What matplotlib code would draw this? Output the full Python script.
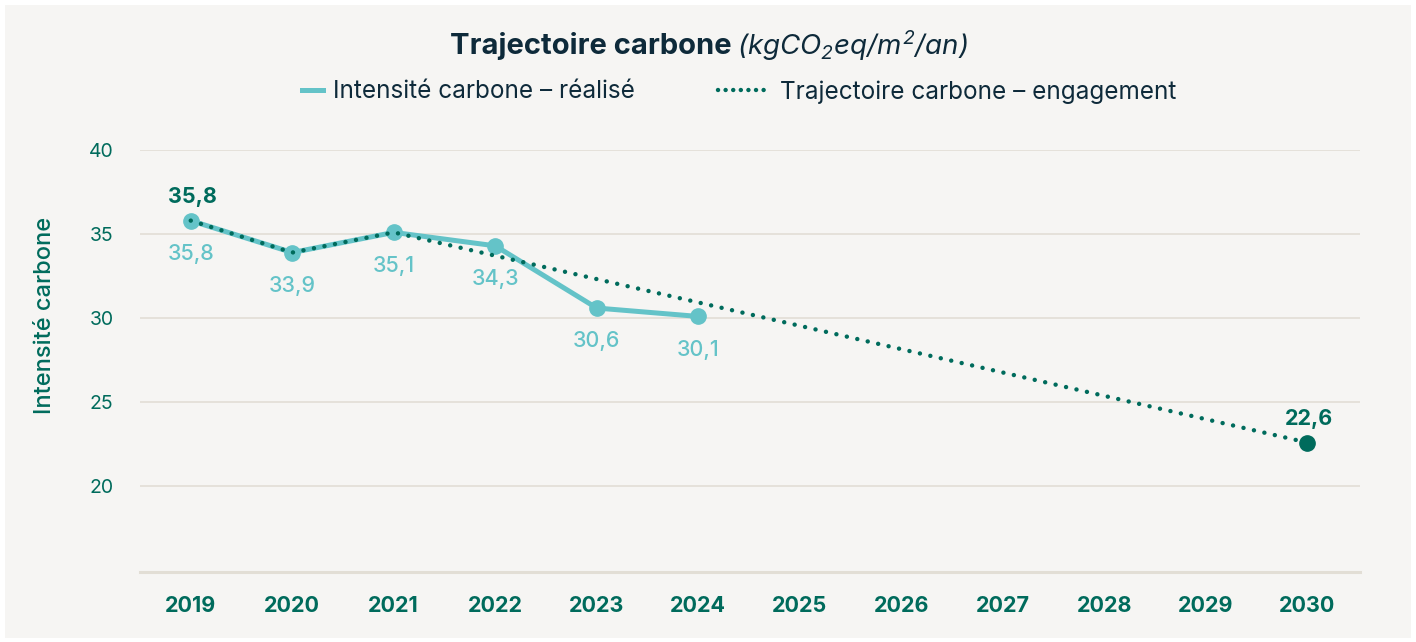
import matplotlib.pyplot as plt
from matplotlib.patches import Rectangle
from matplotlib.lines import Line2D

# --- data ---
years = [2019, 2020, 2021, 2022, 2023, 2024, 2025, 2026, 2027, 2028, 2029, 2030]
realise_years = [2019, 2020, 2021, 2022, 2023, 2024]
realise = [35.8, 33.9, 35.1, 34.3, 30.6, 30.1]
traj_years = [2019, 2020, 2021, 2030]
traj = [35.8, 33.9, 35.1, 22.6]
yticks = [20, 25, 30, 35, 40]

# --- colours ---
TEAL = '#64C3C8'
DARK = '#006B5C'
NAVY = '#0E2A3A'
BG = '#F6F5F3'
GRID = '#E2DED5'

plt.rcParams['font.family'] = ['Inter', 'DejaVu Sans']
# mathtext only used for the italic unit in the title
plt.rcParams['mathtext.fontset'] = 'custom'
plt.rcParams['mathtext.it'] = 'Inter:italic'
plt.rcParams['mathtext.rm'] = 'Inter:italic'

fig = plt.figure(figsize=(14.16, 6.42), dpi=100)
fig.patch.set_facecolor('white')
fig.patches.append(Rectangle((5 / 1416, 4 / 642), 1406 / 1416, 633 / 642,
                             transform=fig.transFigure, facecolor=BG,
                             edgecolor='none', zorder=-10))

ax = fig.add_axes([140 / 1416, 1 - 572 / 642, 1220 / 1416, 422 / 642])
ax.set_facecolor(BG)
ax.set_xlim(2018.5, 2030.52)
ax.set_ylim(14.9, 40)

for v in yticks:
    ax.axhline(v, color=GRID, lw=1.2, zorder=1)

for s in ['top', 'right', 'left']:
    ax.spines[s].set_visible(False)
ax.spines['bottom'].set_color(GRID)
ax.spines['bottom'].set_linewidth(2.2)

ax.set_xticks(years)
ax.set_xticklabels([str(y) for y in years], fontsize=15.5, fontweight='bold', color=DARK)
ax.set_yticks(yticks)
ax.set_yticklabels([str(v) for v in yticks], fontsize=14, color=DARK)
ax.tick_params(axis='both', length=0)
ax.tick_params(axis='x', pad=17)
ax.tick_params(axis='y', pad=19)
ax.set_ylabel('Intensité carbone', fontsize=17, fontweight='medium', color=DARK)
ax.yaxis.set_label_coords(-0.069, 0.609)

# realised line
ax.plot(realise_years, realise, color=TEAL, lw=3.6, marker='o', markersize=11,
        zorder=3, solid_capstyle='round')
# trajectory dotted
ax.plot(traj_years, traj, color=DARK, lw=3.2, linestyle=(0, (0.01, 2.4)),
        dash_capstyle='round', zorder=4)
ax.plot([traj_years[-1]], [traj[-1]], 'o', color=DARK, markersize=11, zorder=5)

fmt = lambda v: f'{v:.1f}'.replace('.', ',')
for x, v in zip(realise_years, realise):
    ax.annotate(fmt(v), (x, v), xytext=(0, -24), textcoords='offset points',
                ha='center', va='center', fontsize=15.5, fontweight='medium', color=TEAL)
for x, v in [(traj_years[0], traj[0]), (traj_years[-1], traj[-1])]:
    ax.annotate(fmt(v), (x, v), xytext=(1, 17), textcoords='offset points',
                ha='center', va='center', fontsize=15.5, fontweight='bold', color=DARK)

# title
fig.text(732 / 1416, 1 - 46 / 642, 'Trajectoire carbone', ha='right', va='center',
         fontsize=21, fontweight='bold', color=NAVY)
fig.text(737 / 1416, 1 - 46 / 642, r'$(kgCO_2eq/m^2/an)$', ha='left', va='center',
         fontsize=20, color=NAVY)

# legend (two pieces, each with its own handle length)
h1 = Line2D([], [], color=TEAL, lw=3.6)
h2 = Line2D([], [], color=DARK, lw=3.2, linestyle=(0, (0.01, 1.7)), dash_capstyle='round')
leg_y = 1 - 92 / 642
fig.legend([h1], ['Intensité carbone – réalisé'], loc='center left',
           bbox_to_anchor=(302 / 1416, leg_y), frameon=False, borderpad=0,
           borderaxespad=0, fontsize=17.5, labelcolor=NAVY,
           handlelength=0.85, handletextpad=0.42)
fig.legend([h2], ['Trajectoire carbone – engagement'], loc='center left',
           bbox_to_anchor=(718 / 1416, leg_y), frameon=False, borderpad=0,
           borderaxespad=0, fontsize=17.5, labelcolor=NAVY,
           handlelength=2.2, handletextpad=0.34)

fig.savefig('out.png', dpi=100, facecolor='white')
